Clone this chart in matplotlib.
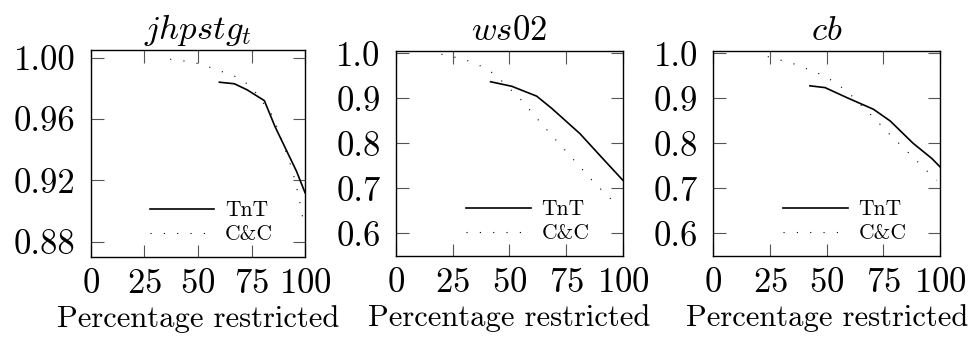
import matplotlib
matplotlib.use('Agg')
import matplotlib.pyplot as plt

# data
titles = ['$jhpstg_t$', '$ws02$', '$cb$']

jh_tnt_x = [60, 67, 73, 81, 86, 96, 100]
jh_tnt_y = [0.984, 0.983, 0.979, 0.972, 0.955, 0.926, 0.912]
jh_cc_x = [37, 48, 55, 61, 67, 72, 76, 85, 90, 94, 97, 99]
jh_cc_y = [0.999, 0.997, 0.994, 0.991, 0.988, 0.984, 0.979, 0.962, 0.943, 0.927, 0.910, 0.895]

ws_tnt_x = [41.7, 51, 62, 68.6, 81, 91, 100]
ws_tnt_y = [0.937, 0.927, 0.905, 0.878, 0.822, 0.767, 0.718]
ws_cc_x = [20, 30, 38.8, 43.6, 54.6, 63.4, 72.5, 80, 88, 93, 98]
ws_cc_y = [0.998, 0.987, 0.969, 0.953, 0.900, 0.848, 0.796, 0.754, 0.709, 0.685, 0.660]

cb_tnt_x = [42.6, 49.3, 58.8, 70.6, 78, 88.2, 96.3, 100]
cb_tnt_y = [0.928, 0.924, 0.902, 0.876, 0.850, 0.800, 0.767, 0.748]
cb_cc_x = [24, 36, 41.6, 49, 55, 59.6, 70.6, 78.2, 86.8, 94, 98.5]
cb_cc_y = [0.993, 0.976, 0.965, 0.950, 0.931, 0.913, 0.858, 0.818, 0.776, 0.740, 0.718]

x_ticks = [0, 25, 50, 75, 100]
jh_y_ticks = [0.88, 0.92, 0.96, 1.00]
other_y_ticks = [0.6, 0.7, 0.8, 0.9, 1.0]

plt.rcParams['font.family'] = 'cmr10'
plt.rcParams['mathtext.fontset'] = 'cm'
plt.rcParams['axes.formatter.use_mathtext'] = True

fig = plt.figure(figsize=(9.72, 3.38), dpi=100)

positions = [[0.0936, 0.2396, 0.2202, 0.6124],
             [0.4074, 0.2426, 0.2335, 0.6074],
             [0.7339, 0.2426, 0.2332, 0.6074]]
series = [(jh_tnt_x, jh_tnt_y, jh_cc_x, jh_cc_y),
          (ws_tnt_x, ws_tnt_y, ws_cc_x, ws_cc_y),
          (cb_tnt_x, cb_tnt_y, cb_cc_x, cb_cc_y)]
ylims = [(0.87, 1.005), (0.55, 1.006), (0.55, 1.006)]
yticks = [jh_y_ticks, other_y_ticks, other_y_ticks]
yfmt = ['%.2f', '%.1f', '%.1f']

for i in range(3):
    ax = fig.add_axes(positions[i])
    tx, ty, cx, cy = series[i]
    ax.plot(tx, ty, color='black', linewidth=1.2, label='TnT')
    ax.plot(cx, cy, color='black', linewidth=0.8, linestyle=(0, (1, 11)), label='C&C')
    ax.set_xlim(0, 100)
    ax.set_ylim(*ylims[i])
    ax.set_xticks(x_ticks)
    ax.set_yticks(yticks[i])
    ax.set_yticklabels([yfmt[i] % v for v in yticks[i]])
    ax.tick_params(direction='in', length=9, width=0.8, color='#555555',
                   top=True, right=True, labelsize=25)
    ax.tick_params(axis='y', pad=11)
    ax.tick_params(axis='x', pad=8)
    for s in ax.spines.values():
        s.set_linewidth(1.0)
    ax.set_title(titles[i], fontsize=25, pad=8)
    ax.set_xlabel('Percentage restricted', fontsize=22, labelpad=4)
    ax.legend(loc='lower right', bbox_to_anchor=(0.89, 0.02), frameon=False,
              fontsize=15.5, handlelength=3.0, handletextpad=0.5,
              labelspacing=0.2, borderaxespad=0)

plt.savefig('out.png', dpi=100)
